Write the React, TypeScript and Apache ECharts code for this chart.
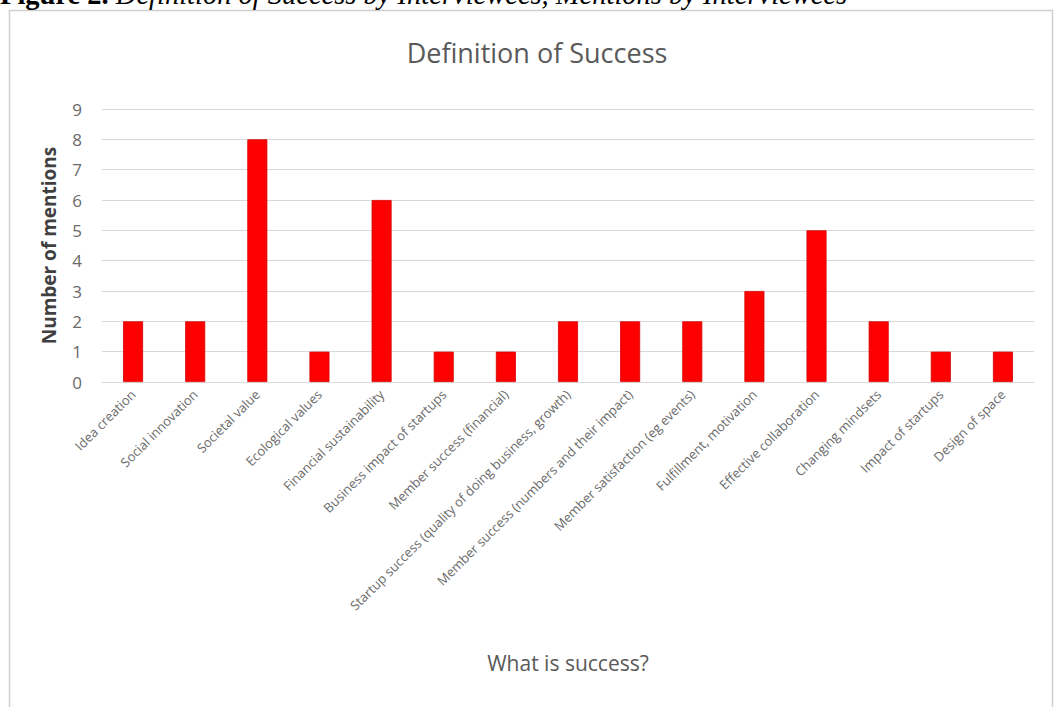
import React, { useEffect, useRef } from "react";
import * as echarts from "echarts";

const categories = [
  "Idea creation",
  "Social innovation",
  "Societal value",
  "Ecological values",
  "Financial sustainability",
  "Business impact of startups",
  "Member success (financial)",
  "Startup success (quality of doing business, growth)",
  "Member success (numbers and their impact)",
  "Member satisfaction (eg events)",
  "Fulfillment, motivation",
  "Effective collaboration",
  "Changing mindsets",
  "Impact of startups",
  "Design of space",
];
const mentions = [2, 2, 8, 1, 6, 1, 1, 2, 2, 2, 3, 5, 2, 1, 1];
const yTicks = [0, 1, 2, 3, 4, 5, 6, 7, 8, 9];

const chartTitle = "Definition of Success";
const yAxisTitle = "Number of mentions";
const xAxisTitle = "What is success?";
const captionBold = "Figure 2.";
const captionItalic = " Definition of Success by Interviewees, Mentions by Interviewees";

export default function App() {
  const ref = useRef<HTMLDivElement>(null);
  useEffect(() => {
    if (!ref.current) return;
    const chart = echarts.init(ref.current, null, { renderer: "svg" });
    const font = "'Open Sans', 'Liberation Sans', sans-serif";
    chart.setOption({
      animation: false,
      backgroundColor: "#ffffff",
      graphic: [
        {
          type: "rect",
          shape: { x: 9.5, y: 10.5, width: 1043, height: 720 },
          style: { fill: "#ffffff", stroke: "#cfcfcf", lineWidth: 1.5 },
          z: -10,
        },
        {
          type: "text",
          x: 0,
          y: -20,
          style: {
            text: "{b|" + captionBold + "}{i|" + captionItalic + "}",
            rich: {
              b: { fontFamily: "'Liberation Serif', serif", fontWeight: "bold", fontSize: 28.5, fill: "#000" },
              i: { fontFamily: "'Liberation Serif', serif", fontStyle: "italic", fontSize: 28.5, fill: "#000" },
            },
          },
        },
        {
          type: "text",
          x: 537,
          y: 39,
          style: {
            text: chartTitle,
            fontFamily: font,
            fontSize: 27,
            fill: "#595959",
            textAlign: "center",
          },
        },
      ],
      grid: { left: 102, right: 21, top: 109, bottom: 325, containLabel: false },
      xAxis: {
        type: "category",
        data: categories,
        name: xAxisTitle,
        nameLocation: "middle",
        nameGap: 270,
        nameTextStyle: { fontFamily: font, fontSize: 21, color: "#595959" },
        axisLine: { show: true, lineStyle: { color: "#d9d9d9", width: 1 } },
        axisTick: { show: false },
        axisLabel: {
          rotate: 45,
          interval: 0,
          fontFamily: font,
          fontSize: 13,
          color: "#6a6a6a",
          margin: 10,
        },
      },
      yAxis: {
        type: "value",
        min: 0,
        max: 9,
        interval: 1,
        name: yAxisTitle,
        nameLocation: "middle",
        nameGap: 44,
        nameTextStyle: { fontFamily: font, fontSize: 19, color: "#404040", fontWeight: "bold" },
        axisLine: { show: false },
        axisTick: { show: false },
        axisLabel: {
          fontFamily: font,
          fontSize: 17,
          color: "#6a6a6a",
          margin: 20,
          formatter: (v: number) => (yTicks.includes(v) ? String(v) : ""),
        },
        splitLine: { lineStyle: { color: "#d9d9d9", width: 1 } },
      },
      series: [
        {
          type: "bar",
          data: mentions,
          barWidth: 20,
          itemStyle: { color: "#ff0000", borderColor: "#d40000", borderWidth: 0.8 },
        },
      ],
    });
    return () => chart.dispose();
  }, []);
  return (
    <div
      ref={ref}
      style={{ position: "fixed", left: 0, top: 0, width: 1055, height: 707, background: "#fff" }}
    />
  );
}
